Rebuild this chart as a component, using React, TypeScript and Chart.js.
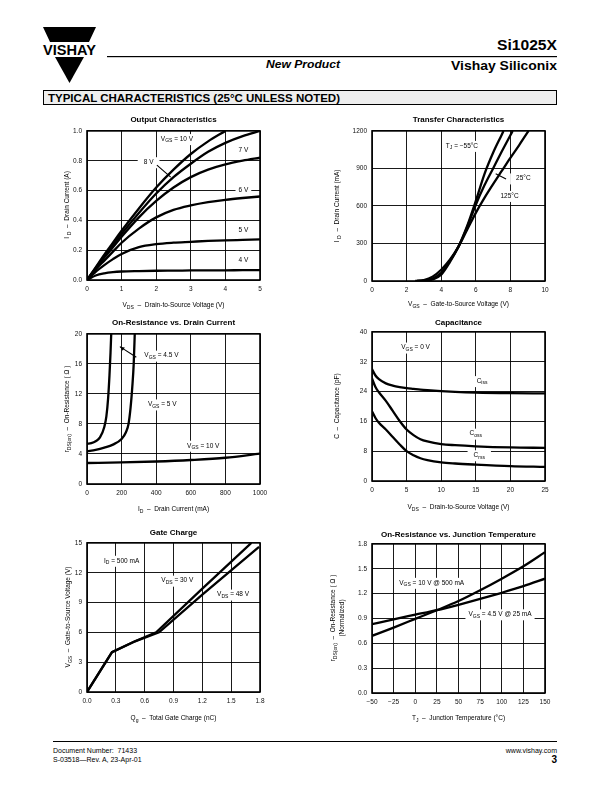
import React, { useEffect, useRef } from 'react';
import { Chart, registerables } from 'chart.js';
Chart.register(...registerables);

const FONT = "'Liberation Sans', Arial, Helvetica, sans-serif";

// ---------- Output Characteristics ----------
const outVds = [0, 0.25, 0.5, 0.75, 1, 1.5, 2, 2.5, 3, 3.5, 4, 4.5, 5];
const outId10 = [0, 0.085, 0.17, 0.25, 0.33, 0.48, 0.62, 0.74, 0.845, 0.93, 1.0];
const outId8 = [0, 0.08, 0.16, 0.235, 0.31, 0.45, 0.58, 0.69, 0.78, 0.86, 0.92, 0.965, 1.0];
const outId7 = [0, 0.075, 0.15, 0.22, 0.29, 0.42, 0.53, 0.62, 0.69, 0.74, 0.775, 0.8, 0.82];
const outId6 = [0, 0.07, 0.13, 0.19, 0.25, 0.345, 0.42, 0.47, 0.5, 0.522, 0.538, 0.55, 0.56];
const outId5 = [0, 0.055, 0.1, 0.14, 0.175, 0.22, 0.24, 0.25, 0.256, 0.262, 0.266, 0.269, 0.272];
const outId4 = [0, 0.03, 0.045, 0.053, 0.057, 0.06, 0.062, 0.063, 0.064, 0.065, 0.065, 0.066, 0.066];

// ---------- Transfer Characteristics ----------
const trVgs125 = [2.5, 3, 3.5, 4, 4.5, 5, 5.5, 6, 6.5, 7, 7.5, 8, 8.5, 9, 9.05];
const trId125 = [0, 8, 35, 90, 170, 275, 410, 545, 665, 775, 880, 985, 1085, 1190, 1200];
const trVgs25 = [2.6, 3, 3.5, 4, 4.5, 5, 5.5, 6, 6.5, 7, 7.5, 8, 8.13];
const trId25 = [0, 4, 20, 65, 160, 275, 430, 610, 765, 900, 1035, 1165, 1200];
const trVgsM55 = [2.7, 3, 3.5, 4, 4.5, 5, 5.5, 6, 6.5, 7, 7.5, 7.6];
const trIdM55 = [0, 2, 12, 50, 150, 275, 440, 640, 855, 1025, 1170, 1200];

// ---------- On-Resistance vs. Drain Current ----------
const rdsId45 = [0, 25, 50, 75, 100, 112, 122, 130, 136, 140];
const rds45 = [5.35, 5.45, 5.7, 6.2, 7.6, 9.0, 11.4, 14.5, 17.5, 20];
const rdsId5 = [0, 50, 100, 150, 200, 225, 240, 252, 262, 270, 276];
const rds5 = [4.35, 4.55, 4.85, 5.25, 6.0, 6.9, 8.0, 10.2, 13, 16, 20];
const rdsId10 = [0, 200, 400, 600, 800, 1000];
const rds10 = [2.8, 2.88, 3.0, 3.2, 3.5, 4.05];

// ---------- Capacitance ----------
const capVds = [0, 0.5, 1, 2, 3, 4, 5, 6, 7, 8, 10, 12, 15, 20, 25];
const ciss = [30, 28.3, 27.3, 26.2, 25.6, 25.2, 24.9, 24.7, 24.5, 24.35, 24.1, 23.9, 23.7, 23.55, 23.5];
const coss = [27.5, 25.2, 23.8, 21.5, 18.8, 16.1, 13.8, 12.3, 11.2, 10.6, 9.9, 9.6, 9.3, 9.0, 8.9];
const crss = [18.7, 16.9, 15.6, 13.8, 11.8, 9.8, 8.0, 6.9, 6.1, 5.6, 5.0, 4.7, 4.4, 4.0, 3.8];

// ---------- Gate Charge ----------
const gateQ30 = [0, 0.26, 0.5, 0.72, 1.2, 1.71];
const gateV30 = [0, 4.0, 5.1, 6.0, 10.4, 15];
const gateQ48 = [0, 0.26, 0.5, 0.75, 1.2, 1.79];
const gateV48 = [0, 4.0, 5.1, 6.0, 9.8, 14.6];

// ---------- On-Resistance vs. Junction Temperature ----------
const tempTj = [-50, -25, 0, 25, 50, 75, 100, 125, 150];
const rNorm10 = [0.69, 0.79, 0.895, 1.0, 1.11, 1.24, 1.38, 1.53, 1.7];
const rNorm45 = [0.83, 0.89, 0.945, 1.0, 1.065, 1.135, 1.21, 1.29, 1.38];

type Part = [string, boolean?];
type Label = { x: number; y: number; parts: Part[]; bg?: boolean; padX?: number };
type Line = { x1: number; y1: number; x2: number; y2: number; arrow?: boolean };
type Series = { xs: number[]; ys: number[] };
type Axis = { min: number; max: number; step: number; fmt: (v: number) => string };
type Cfg = {
  rect: { l: number; t: number; r: number; b: number };
  x: Axis;
  y: Axis;
  series: Series[];
  smooth: boolean;
  labels: Label[];
  lines: Line[];
};

const f1 = (v: number) => v.toFixed(1);
const f0 = (v: number) => String(Math.round(v));
const fMinus = (v: number) => (v < 0 ? '\u2212' + Math.abs(Math.round(v)) : String(Math.round(v)));

const S = (xs: number[], ys: number[]): Series => ({ xs: xs.slice(0, ys.length), ys });

const cfgs: Cfg[] = [
  {
    rect: { l: 87, t: 130, r: 260, b: 280 },
    x: { min: 0, max: 5, step: 1, fmt: f0 },
    y: { min: 0, max: 1, step: 0.2, fmt: f1 },
    series: [S(outVds, outId10), S(outVds, outId8), S(outVds, outId7), S(outVds, outId6), S(outVds, outId5), S(outVds, outId4)],
    smooth: true,
    labels: [
      { x: 2.6, y: 0.945, parts: [['V'], ['GS', true], [' = 10 V']], bg: true },
      { x: 1.78, y: 0.79, parts: [['8 V']], bg: true, padX: 6 },
      { x: 4.52, y: 0.87, parts: [['7 V']], bg: true },
      { x: 4.52, y: 0.6, parts: [['6 V']], bg: true },
      { x: 4.52, y: 0.335, parts: [['5 V']], bg: true },
      { x: 4.52, y: 0.13, parts: [['4 V']], bg: true },
    ],
    lines: [{ x1: 2.02, y1: 0.77, x2: 2.42, y2: 0.69 }],
  },
  {
    rect: { l: 372, t: 130, r: 545, b: 281 },
    x: { min: 0, max: 10, step: 2, fmt: f0 },
    y: { min: 0, max: 1200, step: 300, fmt: f0 },
    series: [S(trVgsM55, trIdM55), S(trVgs25, trId25), S(trVgs125, trId125)],
    smooth: true,
    labels: [
      { x: 5.2, y: 1080, parts: [['T'], ['J', true], [' = \u221255\u00b0C']], bg: true },
      { x: 8.75, y: 820, parts: [['25\u00b0C']], bg: true, padX: 6 },
      { x: 7.95, y: 680, parts: [['125\u00b0C']], bg: true },
    ],
    lines: [{ x1: 7.75, y1: 815, x2: 7.15, y2: 858 }],
  },
  {
    rect: { l: 87, t: 333, r: 260, b: 484 },
    x: { min: 0, max: 1000, step: 200, fmt: f0 },
    y: { min: 0, max: 20, step: 4, fmt: f0 },
    series: [S(rdsId45, rds45), S(rdsId5, rds5), S(rdsId10, rds10)],
    smooth: true,
    labels: [
      { x: 430, y: 17.1, parts: [['V'], ['GS', true], [' = 4.5 V']], bg: true },
      { x: 435, y: 10.6, parts: [['V'], ['GS', true], [' = 5 V']], bg: true },
      { x: 672, y: 5.1, parts: [['V'], ['GS', true], [' = 10 V']], bg: true },
    ],
    lines: [{ x1: 285, y1: 16.9, x2: 190, y2: 18.3, arrow: true }],
  },
  {
    rect: { l: 372, t: 331, r: 545, b: 481 },
    x: { min: 0, max: 25, step: 5, fmt: f0 },
    y: { min: 0, max: 40, step: 8, fmt: f0 },
    series: [S(capVds, ciss), S(capVds, coss), S(capVds, crss)],
    smooth: true,
    labels: [
      { x: 6.3, y: 35.8, parts: [['V'], ['GS', true], [' = 0 V']], bg: true },
      { x: 15.9, y: 26.8, parts: [['C'], ['iss', true]], bg: true },
      { x: 15.0, y: 12.7, parts: [['C'], ['oss', true]], bg: true },
      { x: 15.5, y: 6.9, parts: [['C'], ['rss', true]], bg: true, padX: 6 },
    ],
    lines: [],
  },
  {
    rect: { l: 87, t: 542, r: 260, b: 692 },
    x: { min: 0, max: 1.8, step: 0.3, fmt: f1 },
    y: { min: 0, max: 15, step: 3, fmt: f0 },
    series: [S(gateQ30, gateV30), S(gateQ48, gateV48)],
    smooth: false,
    labels: [
      { x: 0.36, y: 13.2, parts: [['I'], ['D', true], [' = 500 mA']], bg: true },
      { x: 0.94, y: 11.2, parts: [['V'], ['DS', true], [' = 30 V']], bg: true },
      { x: 1.52, y: 9.8, parts: [['V'], ['DS', true], [' = 48 V']], bg: true },
    ],
    lines: [],
  },
  {
    rect: { l: 372, t: 543, r: 545, b: 693 },
    x: { min: -50, max: 150, step: 25, fmt: fMinus },
    y: { min: 0, max: 1.8, step: 0.3, fmt: f1 },
    series: [S(tempTj, rNorm10), S(tempTj, rNorm45)],
    smooth: true,
    labels: [
      { x: 19, y: 1.33, parts: [['V'], ['GS', true], [' = 10 V @ 500 mA']], bg: true },
      { x: 98, y: 0.95, parts: [['V'], ['GS', true], [' = 4.5 V @ 25 mA']], bg: true },
    ],
    lines: [],
  },
];

const FS = 6.5;
const SS = 5;

function makePlugin(cfg: Cfg) {
  return {
    id: 'sheetDecor',
    beforeDatasetsDraw(chart: any) {
      const ctx: CanvasRenderingContext2D = chart.ctx;
      const xs = chart.scales.x;
      const ys = chart.scales.y;
      ctx.save();
      for (const a of cfg.labels) {
        const px = xs.getPixelForValue(a.x);
        const py = ys.getPixelForValue(a.y);
        let total = 0;
        const widths: number[] = [];
        for (const [t, sub] of a.parts) {
          ctx.font = `${sub ? SS : FS}px ${FONT}`;
          const w = ctx.measureText(t).width;
          widths.push(w);
          total += w;
        }
        const x0 = px - total / 2;
        if (a.bg) {
          const p = a.padX ?? 3;
          ctx.fillStyle = '#fff';
          ctx.fillRect(x0 - p, py - 5, total + 2 * p, 11);
        }
        ctx.fillStyle = '#000';
        ctx.textBaseline = 'middle';
        ctx.textAlign = 'left';
        let cx = x0;
        a.parts.forEach(([t, sub], i) => {
          ctx.font = `${sub ? SS : FS}px ${FONT}`;
          ctx.fillText(t, cx, sub ? py + 2 : py);
          cx += widths[i];
        });
      }
      for (const l of cfg.lines) {
        const x1 = xs.getPixelForValue(l.x1);
        const y1 = ys.getPixelForValue(l.y1);
        const x2 = xs.getPixelForValue(l.x2);
        const y2 = ys.getPixelForValue(l.y2);
        ctx.strokeStyle = '#000';
        ctx.lineWidth = 1.1;
        ctx.beginPath();
        ctx.moveTo(x1, y1);
        ctx.lineTo(x2, y2);
        ctx.stroke();
        if (l.arrow) {
          const ang = Math.atan2(y2 - y1, x2 - x1);
          const L = 5;
          ctx.fillStyle = '#000';
          ctx.beginPath();
          ctx.moveTo(x2, y2);
          ctx.lineTo(x2 - L * Math.cos(ang - 0.4), y2 - L * Math.sin(ang - 0.4));
          ctx.lineTo(x2 - L * Math.cos(ang + 0.4), y2 - L * Math.sin(ang + 0.4));
          ctx.closePath();
          ctx.fill();
        }
      }
      ctx.restore();
    },
    afterDraw(chart: any) {
      const ctx: CanvasRenderingContext2D = chart.ctx;
      const a = chart.chartArea;
      ctx.save();
      ctx.strokeStyle = '#000';
      ctx.lineWidth = 1.6;
      ctx.strokeRect(a.left, a.top, a.right - a.left, a.bottom - a.top);
      ctx.restore();
    },
  };
}

const PADL = 40;
const PADT = 8;
const PADR = 14;
const PADB = 22;

function Plot({ cfg }: { cfg: Cfg }) {
  const ref = useRef<HTMLCanvasElement>(null);
  const { l, t, r, b } = cfg.rect;
  const w = r - l + PADL + PADR;
  const h = b - t + PADT + PADB;
  useEffect(() => {
    const tickFont = { family: FONT, size: FS };
    const chart = new Chart(ref.current as HTMLCanvasElement, {
      type: 'line',
      data: {
        datasets: cfg.series.map((s) => ({
          data: s.xs.map((x, i) => ({ x, y: s.ys[i] })),
          borderColor: '#000',
          borderWidth: 2.3,
          pointRadius: 0,
          fill: false,
          tension: cfg.smooth ? 0.4 : 0,
          cubicInterpolationMode: cfg.smooth ? 'monotone' : 'default',
        })),
      },
      options: {
        responsive: false,
        animation: false,
        events: [],
        layout: { padding: { left: 0, top: PADT, right: PADR, bottom: 0 } },
        plugins: { legend: { display: false }, tooltip: { enabled: false }, title: { display: false } },
        scales: {
          x: {
            type: 'linear',
            min: cfg.x.min,
            max: cfg.x.max,
            ticks: {
              stepSize: cfg.x.step,
              callback: (v: any) => cfg.x.fmt(Number(v)),
              font: tickFont,
              color: '#111',
              padding: 5,
              maxRotation: 0,
              autoSkip: false,
            },
            grid: { color: '#000', lineWidth: 0.9, drawTicks: false },
            border: { display: false },
            afterFit: (s: any) => {
              s.height = PADB;
            },
          },
          y: {
            type: 'linear',
            min: cfg.y.min,
            max: cfg.y.max,
            ticks: {
              stepSize: cfg.y.step,
              callback: (v: any) => cfg.y.fmt(Number(v)),
              font: tickFont,
              color: '#111',
              padding: 5,
              autoSkip: false,
            },
            grid: { color: '#000', lineWidth: 0.9, drawTicks: false },
            border: { display: false },
            afterFit: (s: any) => {
              s.width = PADL;
            },
          },
        },
      } as any,
      plugins: [makePlugin(cfg)],
    });
    return () => chart.destroy();
  }, []);
  return (
    <canvas
      ref={ref}
      width={w}
      height={h}
      style={{ position: 'absolute', left: l - PADL, top: t - PADT, width: w, height: h }}
    />
  );
}

type TxtProps = {
  x: number;
  y: number;
  size?: number;
  bold?: boolean;
  italic?: boolean;
  anchor?: 'start' | 'middle' | 'end';
  rot?: boolean;
  children: React.ReactNode;
};

function Txt({ x, y, size = 6.5, bold = false, italic = false, anchor = 'middle', rot = false, children }: TxtProps) {
  const tx = anchor === 'middle' ? '-50%' : anchor === 'end' ? '-100%' : '0';
  return (
    <div
      style={{
        position: 'absolute',
        left: x,
        top: y,
        transform: `translate(${tx},-50%)${rot ? ' rotate(-90deg)' : ''}`,
        whiteSpace: 'pre',
        fontFamily: FONT,
        fontSize: size,
        fontWeight: bold ? 700 : 400,
        fontStyle: italic ? 'italic' : 'normal',
        lineHeight: 1,
        color: '#000',
      }}
    >
      {children}
    </div>
  );
}

const Sb = ({ children }: { children: React.ReactNode }) => (
  <span style={{ fontSize: '0.78em', position: 'relative', top: '0.3em' }}>{children}</span>
);

export default function App() {
  return (
    <div style={{ position: 'absolute', left: 0, top: 0, width: 612, height: 792, background: '#fff', overflow: 'hidden' }}>
      {/* Header */}
      <svg width={612} height={110} style={{ position: 'absolute', left: 0, top: 0 }}>
        <polygon points="43,27 96,27 89,42 50,42" fill="#000" />
        <text x={43} y={55} fontFamily={FONT} fontWeight={700} fontSize={14} textLength={53} lengthAdjust="spacingAndGlyphs">
          VISHAY
        </text>
        <polygon points="55,57 84,57 69.5,83" fill="#000" />
        <text x={557} y={49.5} textAnchor="end" fontFamily={FONT} fontWeight={700} fontSize={15} textLength={60} lengthAdjust="spacingAndGlyphs">
          Si1025X
        </text>
        <rect x={107} y={56} width={450} height={1.2} fill="#000" />
        <text x={266} y={68} fontFamily={FONT} fontWeight={700} fontStyle="italic" fontSize={11.5} textLength={74} lengthAdjust="spacingAndGlyphs">
          New Product
        </text>
        <text x={557} y={69.5} textAnchor="end" fontFamily={FONT} fontWeight={700} fontSize={12.5} textLength={106} lengthAdjust="spacingAndGlyphs">
          Vishay Siliconix
        </text>
        <rect x={43.5} y={90.5} width={513} height={14} fill="#eeeeee" stroke="#000" strokeWidth={1} />
        <text x={48} y={101.5} fontFamily={FONT} fontWeight={700} fontSize={10.5} textLength={292} lengthAdjust="spacingAndGlyphs">
          TYPICAL CHARACTERISTICS (25°C UNLESS NOTED)
        </text>
      </svg>

      {cfgs.map((c, i) => (
        <Plot key={i} cfg={c} />
      ))}

      {/* Chart titles */}
      <Txt x={173.5} y={120} size={8} bold>Output Characteristics</Txt>
      <Txt x={458.5} y={120} size={8} bold>Transfer Characteristics</Txt>
      <Txt x={173.5} y={323} size={8} bold>On-Resistance vs. Drain Current</Txt>
      <Txt x={458.5} y={323} size={8} bold>Capacitance</Txt>
      <Txt x={173.5} y={533} size={8} bold>Gate Charge</Txt>
      <Txt x={458.5} y={535} size={8} bold>On-Resistance vs. Junction Temperature</Txt>

      {/* X axis titles */}
      <Txt x={173.5} y={305}>V<Sb>DS</Sb>{'  \u2013  '}Drain-to-Source Voltage (V)</Txt>
      <Txt x={458.5} y={304}>V<Sb>GS</Sb>{'  \u2013  '}Gate-to-Source Voltage (V)</Txt>
      <Txt x={173.5} y={509}>I<Sb>D</Sb>{'  \u2013  '}Drain Current (mA)</Txt>
      <Txt x={458.5} y={507}>V<Sb>DS</Sb>{'  \u2013  '}Drain-to-Source Voltage (V)</Txt>
      <Txt x={173.5} y={718}>Q<Sb>g</Sb>{'  \u2013  '}Total Gate Charge (nC)</Txt>
      <Txt x={458.5} y={718}>T<Sb>J</Sb>{'  \u2013  '}Junction Temperature (°C)</Txt>

      {/* Y axis titles */}
      <Txt x={67} y={205} rot>I <Sb>D</Sb>{'  \u2013  '}Drain Current (A)</Txt>
      <Txt x={337} y={205.5} rot>I <Sb>D</Sb>{'  \u2013  '}Drain Current (mA)</Txt>
      <Txt x={67} y={408.5} rot>r<Sb>DS(on)</Sb>{'  \u2013  '}On-Resistance ( {'\u03a9'} )</Txt>
      <Txt x={337} y={406} rot>{'C  \u2013  '}Capacitance (pF)</Txt>
      <Txt x={68} y={617} rot>V<Sb>GS</Sb>{'  \u2013  '}Gate-to-Source Voltage (V)</Txt>
      <Txt x={333} y={618} rot>r<Sb>DS(on)</Sb>{'  \u2013  '}On-Resistance ( {'\u03a9'} )</Txt>
      <Txt x={342} y={618} rot>(Normalized)</Txt>

      {/* Footer */}
      <div style={{ position: 'absolute', left: 53, top: 741, width: 504, height: 1, background: '#000' }} />
      <Txt x={53} y={749.5} size={7} anchor="start">Document Number:  71433</Txt>
      <Txt x={53} y={758.5} size={7} anchor="start">S-03518{'\u2014'}Rev. A, 23-Apr-01</Txt>
      <Txt x={557} y={749.5} size={7} anchor="end">www.vishay.com</Txt>
      <Txt x={557} y={759.5} size={10} bold anchor="end">3</Txt>
    </div>
  );
}
